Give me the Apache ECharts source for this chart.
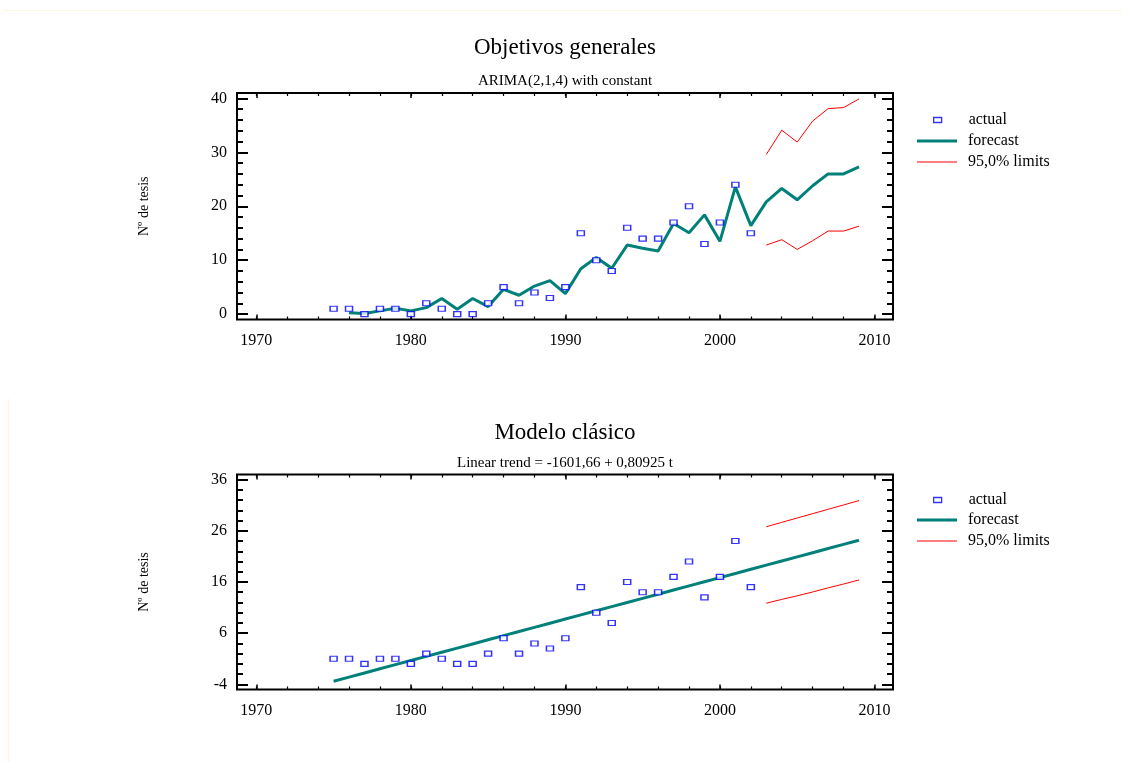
<!DOCTYPE html>
<html><head><meta charset="utf-8">
<script src="https://cdn.jsdelivr.net/npm/echarts@6/dist/echarts.min.js"></script>
<style>html,body{margin:0;padding:0;background:#fff}#c{width:1123px;height:762px}</style>
</head><body><div id="c"></div>
<script>
// ---------- data ----------
const actualYears = [1975,1976,1977,1978,1979,1980,1981,1982,1983,1984,1985,1986,1987,1988,1989,1990,1991,1992,1993,1994,1995,1996,1997,1998,1999,2000,2001,2002];
const actualValues = [1,1,0,1,1,0,2,1,0,0,2,5,2,4,3,5,15,10,8,16,14,14,17,20,13,17,24,15];

const arimaYears = [1976,1977,1978,1979,1980,1981,1982,1983,1984,1985,1986,1987,1988,1989,1990,1991,1992,1993,1994,1995,1996,1997,1998,1999,2000,2001,2002,2003,2004,2005,2006,2007,2008,2009];
const arimaForecast = [0.25,0.1,0.6,1.1,0.6,1.2,2.9,0.9,2.9,1.4,4.6,3.5,5.2,6.2,3.8,8.4,10.5,8.5,12.8,12.2,11.7,16.8,15.1,18.4,13.5,23.6,16.4,20.8,23.3,21.2,23.8,26.0,26.0,27.3];

const limitYears = [2003,2004,2005,2006,2007,2008,2009];
const arimaUpper = [29.6,34.1,31.9,35.8,38.1,38.3,39.9];
const arimaLower = [12.8,13.8,12.0,13.6,15.4,15.4,16.3];

const trendYears = [1975,1976,1977,1978,1979,1980,1981,1982,1983,1984,1985,1986,1987,1988,1989,1990,1991,1992,1993,1994,1995,1996,1997,1998,1999,2000,2001,2002,2003,2004,2005,2006,2007,2008,2009];
const trendForecast = [-3.39,-2.58,-1.77,-0.96,-0.15,0.66,1.47,2.28,3.09,3.9,4.71,5.52,6.33,7.14,7.95,8.76,9.57,10.38,11.19,12.0,12.81,13.62,14.43,15.24,16.05,16.86,17.67,18.48,19.29,20.1,20.91,21.72,22.53,23.34,24.15];
const trendUpper = [26.8,27.65,28.5,29.35,30.2,31.05,31.9];
const trendLower = [11.85,12.6,13.3,14.05,14.85,15.6,16.4];

const xMajorTicks = [1970,1980,1990,2000,2010];
const xMinorTicks = [1970,1972,1974,1976,1978,1980,1982,1984,1986,1988,1990,1992,1994,1996,1998,2000,2002,2004,2006,2008,2010];
const yTopMajor = [0,10,20,30,40];
const yTopMinor = [0,2,4,6,8,10,12,14,16,18,20,22,24,26,28,30,32,34,36,38,40];
const yBotMajor = [-4,6,16,26,36];
const yBotMinor = [-4,-2,0,2,4,6,8,10,12,14,16,18,20,22,24,26,28,30,32,34,36];

const titles = ['Objetivos generales','ARIMA(2,1,4) with constant','Modelo clásico','Linear trend = -1601,66 + 0,80925 t'];
const yName = 'Nº de tesis';
const legendNames = ['actual','forecast','95,0% limits'];

// ---------- styling ----------
const FONT = 'Liberation Serif, Times New Roman, serif';
const TEAL = '#008079';
const BLUE = '#0000ff';
const RED = '#ff0000';
const X_MIN = 1968.75, X_MAX = 2011.2;

const zip = (a, b) => a.map((v, i) => [v, b[i]]);

const panels = [
  {top: 93, height: 226.5, ymin: -1, ymax: 41, major: yTopMajor, minor: yTopMinor},
  {top: 474.5, height: 215, ymin: -5, ymax: 37, major: yBotMajor, minor: yBotMinor}
];

const grids = [], xAxes = [], yAxes = [];
const noLine = {show: false, onZero: false};
panels.forEach((p, pi) => {
  const gMain = grids.length;
  grids.push({left: 237, top: p.top, width: 656, height: p.height, show: true,
    borderColor: '#000', borderWidth: 2, backgroundColor: 'transparent', containLabel: false});
  const gMinor = grids.length;
  grids.push({left: 237, top: p.top, width: 656, height: p.height, show: false, containLabel: false});
  // x axes
  xAxes.push({type: 'value', gridIndex: gMain, position: 'bottom', min: X_MIN, max: X_MAX,
    axisLine: noLine, splitLine: {show: false},
    axisTick: {inside: true, length: 5, customValues: xMajorTicks, lineStyle: {color: '#000', width: 1.5}},
    axisLabel: {customValues: xMajorTicks, formatter: v => String(v), color: '#000', fontSize: 16, fontFamily: FONT, margin: 13}});
  xAxes.push({type: 'value', gridIndex: gMain, position: 'top', min: X_MIN, max: X_MAX,
    axisLine: noLine, splitLine: {show: false},
    axisTick: {inside: true, length: 5, customValues: xMajorTicks, lineStyle: {color: '#000', width: 1.5}},
    axisLabel: {show: false}});
  xAxes.push({type: 'value', gridIndex: gMinor, position: 'bottom', min: X_MIN, max: X_MAX,
    axisLine: noLine, splitLine: {show: false},
    axisTick: {inside: true, length: 3, customValues: xMinorTicks, lineStyle: {color: '#000', width: 1.2}},
    axisLabel: {show: false}});
  xAxes.push({type: 'value', gridIndex: gMinor, position: 'top', min: X_MIN, max: X_MAX,
    axisLine: noLine, splitLine: {show: false},
    axisTick: {inside: true, length: 3, customValues: xMinorTicks, lineStyle: {color: '#000', width: 1.2}},
    axisLabel: {show: false}});
  // y axes
  yAxes.push({type: 'value', gridIndex: gMain, position: 'left', min: p.ymin, max: p.ymax,
    axisLine: noLine, splitLine: {show: false},
    axisTick: {inside: true, length: 11, customValues: p.major, lineStyle: {color: '#000', width: 2}},
    axisLabel: {customValues: p.major, formatter: v => String(v), color: '#000', fontSize: 16, fontFamily: FONT, margin: 10},
    name: yName, nameLocation: 'middle', nameRotate: 90, nameGap: 86,
    nameTextStyle: {color: '#000', fontSize: 14, fontFamily: FONT}});
  yAxes.push({type: 'value', gridIndex: gMain, position: 'right', min: p.ymin, max: p.ymax,
    axisLine: noLine, splitLine: {show: false},
    axisTick: {inside: true, length: 11, customValues: p.major, lineStyle: {color: '#000', width: 2}},
    axisLabel: {show: false}});
  yAxes.push({type: 'value', gridIndex: gMinor, position: 'left', min: p.ymin, max: p.ymax,
    axisLine: noLine, splitLine: {show: false},
    axisTick: {inside: true, length: 6, customValues: p.minor, lineStyle: {color: '#000', width: 2}},
    axisLabel: {show: false}});
  yAxes.push({type: 'value', gridIndex: gMinor, position: 'right', min: p.ymin, max: p.ymax,
    axisLine: noLine, splitLine: {show: false},
    axisTick: {inside: true, length: 6, customValues: p.minor, lineStyle: {color: '#000', width: 2}},
    axisLabel: {show: false}});
});

function panelSeries(pi, fc, fcYears, up, lo) {
  const ax = pi * 4;
  return [
    {name: 'actual', type: 'scatter', xAxisIndex: ax, yAxisIndex: ax, data: zip(actualYears, actualValues),
      symbol: 'rect', symbolSize: [7, 5], z: 5,
      itemStyle: {color: '#fff', borderColor: BLUE, borderWidth: 1.3}},
    {name: 'forecast', type: 'line', xAxisIndex: ax, yAxisIndex: ax, data: zip(fcYears, fc),
      showSymbol: false, symbol: 'none', lineStyle: {color: TEAL, width: 3}, itemStyle: {color: TEAL}, z: 4},
    {name: '95,0% limits', type: 'line', xAxisIndex: ax, yAxisIndex: ax, data: zip(limitYears, up),
      showSymbol: false, symbol: 'none', lineStyle: {color: RED, width: 1}, itemStyle: {color: RED}, z: 3},
    {name: '95,0% limits', type: 'line', xAxisIndex: ax, yAxisIndex: ax, data: zip(limitYears, lo),
      showSymbol: false, symbol: 'none', lineStyle: {color: RED, width: 1}, itemStyle: {color: RED}, z: 3}
  ];
}

const series = [
  ...panelSeries(0, arimaForecast, arimaYears, arimaUpper, arimaLower),
  ...panelSeries(1, trendForecast, trendYears, trendUpper, trendLower)
];

const legendText = {color: '#000', fontSize: 16, fontFamily: FONT, lineHeight: 16};
function legendsAt(yCenters) {
  return [
    {left: 933, top: yCenters[0] - 8, padding: 0, orient: 'vertical', selectedMode: false,
      itemWidth: 8, itemHeight: 5,
      data: [{name: legendNames[0], icon: 'rect', itemStyle: {color: '#fff', borderColor: BLUE, borderWidth: 1.3}}],
      textStyle: Object.assign({padding: [0, 0, 0, 22]}, legendText)},
    {left: 917, top: yCenters[1] - 8, padding: 0, orient: 'vertical', selectedMode: false,
      itemWidth: 40, itemHeight: 3,
      data: [{name: legendNames[1], icon: 'rect', itemStyle: {color: TEAL}}],
      textStyle: Object.assign({padding: [0, 0, 0, 6]}, legendText)},
    {left: 917, top: yCenters[2] - 8, padding: 0, orient: 'vertical', selectedMode: false,
      itemWidth: 40, itemHeight: 1,
      data: [{name: legendNames[2], icon: 'rect', itemStyle: {color: RED}}],
      textStyle: Object.assign({padding: [0, 0, 0, 6]}, legendText)}
  ];
}

const titleComps = [
  {text: titles[0], left: 565, top: 36, textAlign: 'center', padding: 0, textStyle: {color: '#000', fontSize: 23, fontWeight: 'normal', fontFamily: FONT}},
  {text: titles[1], left: 565, top: 74, textAlign: 'center', padding: 0, textStyle: {color: '#000', fontSize: 15, fontWeight: 'normal', fontFamily: FONT}},
  {text: titles[2], left: 565, top: 421, textAlign: 'center', padding: 0, textStyle: {color: '#000', fontSize: 23, fontWeight: 'normal', fontFamily: FONT}},
  {text: titles[3], left: 565, top: 456, textAlign: 'center', padding: 0, textStyle: {color: '#000', fontSize: 15, fontWeight: 'normal', fontFamily: FONT}}
];

const chart = echarts.init(document.getElementById('c'), null, {renderer: 'canvas'});
chart.setOption({
  animation: false,
  backgroundColor: '#fff',
  title: titleComps,
  legend: [...legendsAt([120, 141, 162]), ...legendsAt([500, 520, 541])],
  grid: grids,
  xAxis: xAxes,
  yAxis: yAxes,
  series: series,
  graphic: [
    {type: 'line', shape: {x1: 3, y1: 10.5, x2: 1123, y2: 10.5}, style: {stroke: '#fdf6e0', lineWidth: 1}, silent: true},
    {type: 'line', shape: {x1: 8.5, y1: 399, x2: 8.5, y2: 762}, style: {stroke: '#fdf6e0', lineWidth: 1.5}, silent: true}
  ]
});
</script>
</body></html>
